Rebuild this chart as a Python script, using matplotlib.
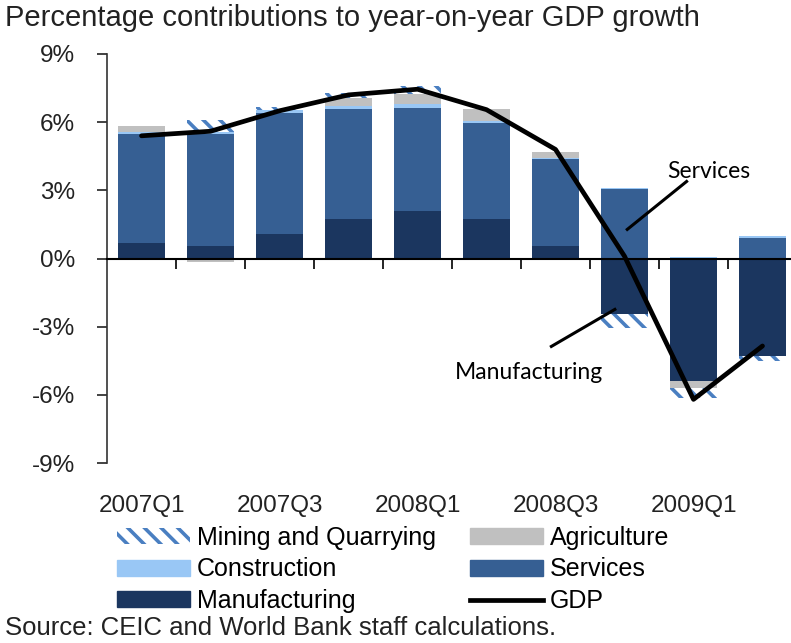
import numpy as np
import matplotlib.pyplot as plt
from matplotlib.ticker import FuncFormatter
from matplotlib.patches import Patch
from matplotlib.lines import Line2D

plt.rcParams['font.family'] = ['Liberation Sans', 'DejaVu Sans']
plt.rcParams['hatch.linewidth'] = 2.6

# contributions to y/y GDP growth, percentage points
quarters = ['2007Q1', '2007Q2', '2007Q3', '2007Q4', '2008Q1',
            '2008Q2', '2008Q3', '2008Q4', '2009Q1', '2009Q2']
manufacturing = [0.69, 0.54, 1.06, 1.72, 2.11, 1.72, 0.57, -2.46, -5.38, -4.28]
services = [4.77, 4.92, 5.35, 4.87, 4.52, 4.25, 3.79, 3.07, 0.0, 0.91]
construction = [0.12, 0.12, 0.12, 0.10, 0.15, 0.10, 0.07, 0.04, 0.05, 0.09]
agriculture = [0.24, -0.15, 0.0, 0.36, 0.44, 0.52, 0.25, 0.0, -0.31, 0.0]
mining = [-0.08, 0.50, 0.15, 0.24, 0.36, 0.0, 0.0, -0.59, -0.44, -0.23]
gdp = [5.4, 5.6, 6.5, 7.2, 7.45, 6.55, 4.8, 0.1, -6.2, -3.85]
tick_labels = ['2007Q1', '2007Q3', '2008Q1', '2008Q3', '2009Q1']

c_manu = '#1b365f'
c_serv = '#365f93'
c_cons = '#99c7f5'
c_agri = '#c0c0c0'
c_mine = '#4a7fc1'

fig = plt.figure(figsize=(7.91, 6.43), dpi=100)
ax = fig.add_axes([107 / 791, 1 - 463 / 643, 690 / 791, 409 / 643])

x = np.arange(len(quarters))
pos_base = np.zeros(len(x))
neg_base = np.zeros(len(x))
series = [
    (manufacturing, dict(color=c_manu)),
    (services, dict(color=c_serv)),
    (construction, dict(color=c_cons)),
    (agriculture, dict(color=c_agri)),
    (mining, dict(facecolor='white', edgecolor=c_mine, hatch='\\\\', linewidth=0)),
]
for vals, style in series:
    vals = np.array(vals)
    bottom = np.where(vals >= 0, pos_base, neg_base)
    ax.bar(x, vals, bottom=bottom, width=0.667, zorder=2, **style)
    pos_base += np.clip(vals, 0, None)
    neg_base += np.clip(vals, None, 0)

ax.plot(x, gdp, color='black', lw=3.4, solid_capstyle='round', zorder=4)

# callouts
ax.plot([7.04, 7.90], [1.28, 3.39], color='black', lw=2.2, zorder=5)
ax.text(8.22, 3.83, 'Services', fontsize=16.5, family='Lato', ha='center', va='center')
ax.plot([6.86, 5.94], [-2.24, -3.87], color='black', lw=2.2, zorder=5)
ax.text(5.62, -5.0, 'Manufacturing', fontsize=16.5, family='Lato', ha='center', va='center')

ax.set_xlim(-0.5, 9.5)
ax.set_ylim(-9, 9)
ax.set_yticks(np.arange(-9, 10, 3))
ax.yaxis.set_major_formatter(FuncFormatter(lambda v, p: f'{v:.0f}%'))
ax.tick_params(axis='y', length=7, width=1.2, pad=16, labelsize=17.5, colors='#222222')

ax.spines['bottom'].set_position(('data', 0))
ax.spines['bottom'].set_linewidth(1.5)
ax.spines['bottom'].set_zorder(3)
ax.spines['left'].set_linewidth(1.2)
ax.spines['left'].set_color('#333333')
ax.spines['top'].set_visible(False)
ax.spines['right'].set_visible(False)

ax.set_xticks(x[::2])
ax.set_xticklabels(tick_labels)
ax.set_xticks(np.arange(0.5, 9.5, 1), minor=True)
ax.tick_params(axis='x', which='major', length=0, pad=170, labelsize=17.5, colors='#222222')
ax.tick_params(axis='x', which='minor', length=7, width=1.2)

# legend is filled column by column
handles = [
    Patch(facecolor='white', edgecolor=c_mine, hatch='\\\\', linewidth=0),
    Patch(color=c_cons),
    Patch(color=c_manu),
    Patch(color=c_agri),
    Patch(color=c_serv),
    Line2D([0], [0], color='black', lw=3.4),
]
labels = ['Mining and Quarrying', 'Construction', 'Manufacturing',
          'Agriculture', 'Services', 'GDP']
fig.legend(handles, labels, ncol=2, loc='upper left',
           bbox_to_anchor=(117 / 791, 1 - 526 / 643), frameon=False,
           fontsize=18, handlelength=2.9, handleheight=0.6, handletextpad=0.3,
           columnspacing=1.36, labelspacing=0.3, borderpad=0, borderaxespad=0)

fig.text(5 / 791, 1 - 18 / 643, 'Percentage contributions to year-on-year GDP growth',
         fontsize=21, va='center', ha='left', color='#222222')
fig.text(5 / 791, 1 - 628 / 643, 'Source: CEIC and World Bank staff calculations.',
         fontsize=18.5, va='center', ha='left', color='#222222')

fig.savefig('out.png', dpi=100)
